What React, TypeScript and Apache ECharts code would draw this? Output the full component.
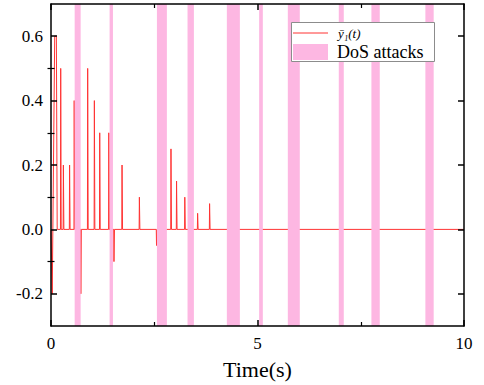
import React, { useEffect, useRef } from "react";
import * as echarts from "echarts";

// ---- data ----
const xTicks = [0, 5, 10];
const yMajorTicks = [-0.2, 0, 0.2, 0.4, 0.6];
const yMinorTicks = [-0.1, 0.1, 0.3, 0.5];

// DoS attack intervals (s)
const dosStart = [0.573, 1.419, 2.565, 3.306, 4.258, 5.04, 5.734, 6.968, 7.758, 9.065];
const dosEnd = [0.718, 1.5, 2.806, 3.46, 4.573, 5.129, 6.024, 7.089, 7.96, 9.266];

// initial transient of ȳ1(t)
const startT = [0, 0.03, 0.09, 0.13, 0.15];
const startY = [0, -0.2, 0.6, 0.6, 0];

// spikes of ȳ1(t) after the transient
const spikeTimes = [0.235, 0.3, 0.45, 0.562, 0.722, 0.888, 1.05, 1.18, 1.4, 1.525, 1.72, 2.14, 2.555, 2.905, 3.04, 3.24, 3.55, 3.84];
const spikeValues = [0.5, 0.2, 0.2, 0.4, -0.2, 0.5, 0.4, 0.3, 0.3, -0.1, 0.2, 0.1, -0.05, 0.25, 0.15, 0.1, 0.05, 0.08];

const endT = 10;

const FONT = "Liberation Serif";
const RED = "#FF3333";
const PINK = "#FDB7E2";

function buildLine(): number[][] {
  const pts: number[][] = [];
  for (let i = 0; i < startT.length; i++) pts.push([startT[i], startY[i]]);
  for (let i = 0; i < spikeTimes.length; i++) {
    const t = spikeTimes[i];
    pts.push([t - 0.006, 0]);
    pts.push([t, spikeValues[i]]);
    pts.push([t + 0.012, 0]);
  }
  pts.push([endT, 0]);
  return pts;
}

export default function App() {
  const ref = useRef<HTMLDivElement>(null);
  useEffect(() => {
    if (!ref.current) return;
    const chart = echarts.init(ref.current, null, { renderer: "svg" });
    const axisLine = { show: true, onZero: false, lineStyle: { color: "#000", width: 1.5 } };
    const bands = dosStart.map((s, i) => [s, dosEnd[i]]);
    const yBase = (position: string) => ({
      type: "value",
      position,
      min: -0.3,
      max: 0.7,
      z: 5,
      splitLine: { show: false },
    });
    const LX = 291;
    const LY = 22;
    chart.setOption({
      animation: false,
      backgroundColor: "#fff",
      grid: { left: 51, right: 20, top: 4, bottom: 55, containLabel: false },
      xAxis: [
        {
          type: "value",
          position: "bottom",
          min: 0,
          max: 10,
          interval: 5,
          z: 5,
          axisLine,
          axisTick: { show: true, inside: true, length: 6, lineStyle: { color: "#000", width: 1.5 } },
          minorTick: { show: true, splitNumber: 2, length: 4, lineStyle: { color: "#000", width: 1.2 } },
          splitLine: { show: false },
          minorSplitLine: { show: false },
          axisLabel: {
            color: "#000",
            fontSize: 17,
            fontFamily: FONT,
            margin: 9,
            customValues: xTicks,
            formatter: (v: number) => String(v),
          },
          name: "Time(s)",
          nameLocation: "middle",
          nameGap: 32,
          nameTextStyle: { color: "#000", fontSize: 22, fontFamily: FONT },
        },
        {
          type: "value",
          position: "top",
          min: 0,
          max: 10,
          interval: 5,
          z: 5,
          axisLine,
          axisTick: { show: true, inside: true, length: 6, lineStyle: { color: "#000", width: 1.5 } },
          minorTick: { show: true, splitNumber: 2, length: 4, lineStyle: { color: "#000", width: 1.2 } },
          splitLine: { show: false },
          minorSplitLine: { show: false },
          axisLabel: { show: false },
        },
      ],
      yAxis: [
        {
          ...yBase("left"),
          axisLine,
          axisTick: { show: true, inside: true, length: 6, customValues: yMajorTicks, lineStyle: { color: "#000", width: 1.5 } },
          axisLabel: {
            color: "#000",
            fontSize: 17,
            fontFamily: FONT,
            margin: 8,
            customValues: yMajorTicks,
            formatter: (v: number) => v.toFixed(1),
          },
        },
        {
          ...yBase("right"),
          axisLine,
          axisTick: { show: true, inside: true, length: 6, customValues: yMajorTicks, lineStyle: { color: "#000", width: 1.5 } },
          axisLabel: { show: false },
        },
        {
          ...yBase("left"),
          axisLine: { show: false },
          axisTick: { show: true, inside: true, length: 3.5, customValues: yMinorTicks, lineStyle: { color: "#000", width: 1.2 } },
          axisLabel: { show: false },
        },
        {
          ...yBase("right"),
          axisLine: { show: false },
          axisTick: { show: true, inside: true, length: 3.5, customValues: yMinorTicks, lineStyle: { color: "#000", width: 1.2 } },
          axisLabel: { show: false },
        },
      ],
      series: [
        {
          type: "line",
          xAxisIndex: 0,
          yAxisIndex: 0,
          data: buildLine(),
          symbol: "none",
          showSymbol: false,
          lineStyle: { color: RED, width: 1 },
          z: 2,
        },
        {
          type: "custom",
          xAxisIndex: 0,
          yAxisIndex: 0,
          data: bands,
          encode: { x: [0, 1] },
          z: 3,
          renderItem: (params: any, api: any) => {
            const p1 = api.coord([api.value(0), 0.7]);
            const p2 = api.coord([api.value(1), -0.3]);
            return {
              type: "rect",
              shape: { x: p1[0], y: p1[1], width: p2[0] - p1[0], height: p2[1] - p1[1] },
              style: { fill: PINK },
            };
          },
        },
      ],
      graphic: {
        elements: [
          {
            type: "rect",
            z: 100,
            silent: true,
            shape: { x: LX + 0.5, y: LY + 0.5, width: 143, height: 39 },
            style: { fill: "#fff", stroke: "#8c8c8c", lineWidth: 1 },
          },
          {
            type: "line",
            z: 101,
            silent: true,
            shape: { x1: LX + 2, y1: LY + 11, x2: LX + 37, y2: LY + 11 },
            style: { stroke: RED, lineWidth: 1 },
          },
          {
            type: "rect",
            z: 101,
            silent: true,
            shape: { x: LX + 2, y: LY + 22, width: 35, height: 16 },
            style: { fill: PINK },
          },
          {
            type: "text",
            z: 101,
            silent: true,
            x: LX + 47,
            y: LY + 11,
            style: {
              text: "ȳ₁(t)",
              fontFamily: FONT,
              fontStyle: "italic",
              fontSize: 13,
              fill: "#000",
              verticalAlign: "middle",
            },
          },
          {
            type: "text",
            z: 101,
            silent: true,
            x: LX + 46,
            y: LY + 30,
            style: {
              text: "DoS attacks",
              fontFamily: FONT,
              fontSize: 18,
              fill: "#000",
              verticalAlign: "middle",
            },
          },
        ],
      },
    });
    return () => chart.dispose();
  }, []);
  return (
    <div
      ref={ref}
      style={{ position: "fixed", left: 0, top: 0, width: 484, height: 385, background: "#fff" }}
    />
  );
}
